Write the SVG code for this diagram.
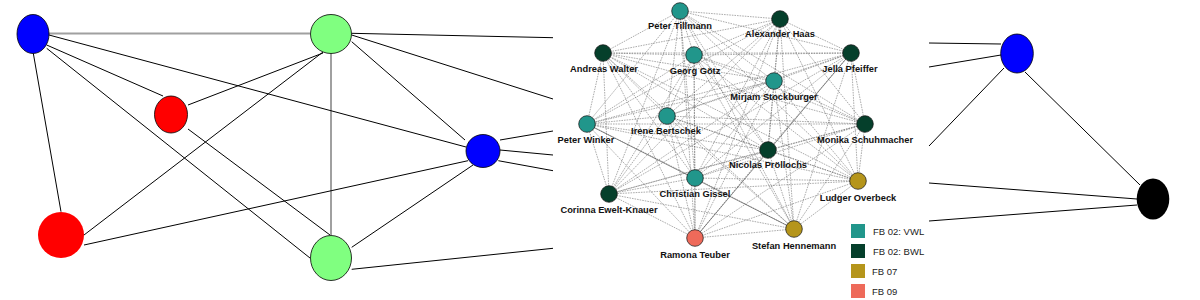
<svg xmlns="http://www.w3.org/2000/svg" width="1200" height="300" viewBox="0 0 1200 300">
<style>
.e{stroke:#000;stroke-width:1;fill:none}
.g{stroke:#a0a0a0;stroke-width:2;fill:none}
.d{stroke:#666;stroke-width:0.55;stroke-dasharray:1.6 1}
.s{stroke:#444;stroke-width:0.6}
.nd{stroke:#111;stroke-width:0.7}
.vwl{fill:#21968b}.bwl{fill:#053f2b}.f07{fill:#b5951b}.f09{fill:#ee6a5a}
.lb{font-family:"Liberation Sans",Arial,sans-serif;font-weight:bold;font-size:9.3px;fill:#111;text-anchor:middle}
.lg{font-family:"Liberation Sans",Arial,sans-serif;font-size:9.5px;fill:#222}
.o{stroke:#000;stroke-width:0.8}
</style>
<rect width="1200" height="300" fill="#fff"/>
<g id="connectors">
<line class="g" x1="49" y1="33.5" x2="310" y2="33.5"/>
<line class="g" x1="331" y1="53.5" x2="331" y2="235"/>
<line class="e" x1="49" y1="35" x2="466" y2="147"/>
<line class="e" x1="46.7" y1="45" x2="163" y2="96"/>
<line class="e" x1="46.7" y1="48.3" x2="310" y2="258"/>
<line class="e" x1="33.3" y1="53.3" x2="61" y2="211.7"/>
<line class="e" x1="188" y1="105" x2="323" y2="53"/>
<line class="e" x1="84" y1="235" x2="323" y2="52"/>
<line class="e" x1="188" y1="129" x2="330" y2="235"/>
<line class="e" x1="84" y1="245" x2="468" y2="160.7"/>
<line class="e" x1="351.7" y1="41.7" x2="465" y2="140"/>
<line class="e" x1="351.7" y1="33.3" x2="553" y2="37.7"/>
<line class="e" x1="351.7" y1="35" x2="553" y2="99"/>
<line class="e" x1="500" y1="140" x2="553" y2="131"/>
<line class="e" x1="500" y1="150" x2="553" y2="155"/>
<line class="e" x1="498.3" y1="160.7" x2="553" y2="170.7"/>
<line class="e" x1="473" y1="165" x2="351.7" y2="247.3"/>
<line class="e" x1="351.7" y1="269.3" x2="553" y2="248.3"/>
<line class="e" x1="929" y1="43" x2="1001" y2="44"/>
<line class="e" x1="929" y1="67" x2="1001" y2="55"/>
<line class="e" x1="929" y1="146" x2="1004" y2="68"/>
<line class="e" x1="929" y1="183" x2="1137" y2="199"/>
<line class="e" x1="929" y1="221" x2="1137" y2="205"/>
<line class="e" x1="1025" y1="72" x2="1140" y2="185"/>
<g class="d">
<line x1="680" y1="11" x2="780" y2="19"/><line x1="680" y1="11" x2="603" y2="53"/><line x1="680" y1="11" x2="694" y2="55"/><line x1="680" y1="11" x2="851" y2="53"/><line x1="680" y1="11" x2="774" y2="81"/><line x1="680" y1="11" x2="667" y2="116"/><line x1="680" y1="11" x2="587" y2="124"/><line x1="680" y1="11" x2="865" y2="124"/><line x1="680" y1="11" x2="768" y2="150"/><line x1="680" y1="11" x2="695" y2="178"/><line x1="680" y1="11" x2="858" y2="181"/><line x1="680" y1="11" x2="609" y2="194"/><line x1="680" y1="11" x2="794" y2="229"/><line x1="680" y1="11" x2="695" y2="238"/>
<line x1="780" y1="19" x2="603" y2="53"/><line x1="780" y1="19" x2="694" y2="55"/><line x1="780" y1="19" x2="851" y2="53"/><line x1="780" y1="19" x2="774" y2="81"/><line x1="780" y1="19" x2="667" y2="116"/><line x1="780" y1="19" x2="587" y2="124"/><line x1="780" y1="19" x2="865" y2="124"/><line x1="780" y1="19" x2="768" y2="150"/><line x1="780" y1="19" x2="695" y2="178"/><line x1="780" y1="19" x2="858" y2="181"/><line x1="780" y1="19" x2="609" y2="194"/><line x1="780" y1="19" x2="794" y2="229"/><line x1="780" y1="19" x2="695" y2="238"/>
<line x1="603" y1="53" x2="694" y2="55"/><line x1="603" y1="53" x2="851" y2="53"/><line x1="603" y1="53" x2="774" y2="81"/><line x1="603" y1="53" x2="667" y2="116"/><line x1="603" y1="53" x2="587" y2="124"/><line x1="603" y1="53" x2="865" y2="124"/><line x1="603" y1="53" x2="768" y2="150"/><line x1="603" y1="53" x2="695" y2="178"/><line x1="603" y1="53" x2="858" y2="181"/><line x1="603" y1="53" x2="609" y2="194"/><line x1="603" y1="53" x2="794" y2="229"/><line x1="603" y1="53" x2="695" y2="238"/>
<line x1="694" y1="55" x2="851" y2="53"/><line x1="694" y1="55" x2="774" y2="81"/><line x1="694" y1="55" x2="667" y2="116"/><line x1="694" y1="55" x2="587" y2="124"/><line x1="694" y1="55" x2="865" y2="124"/><line x1="694" y1="55" x2="768" y2="150"/><line x1="694" y1="55" x2="695" y2="178"/><line x1="694" y1="55" x2="858" y2="181"/><line x1="694" y1="55" x2="609" y2="194"/><line x1="694" y1="55" x2="794" y2="229"/><line x1="694" y1="55" x2="695" y2="238"/>
<line x1="851" y1="53" x2="774" y2="81"/><line x1="851" y1="53" x2="667" y2="116"/><line x1="851" y1="53" x2="587" y2="124"/><line x1="851" y1="53" x2="865" y2="124"/><line x1="851" y1="53" x2="768" y2="150"/><line x1="851" y1="53" x2="695" y2="178"/><line x1="851" y1="53" x2="858" y2="181"/><line x1="851" y1="53" x2="609" y2="194"/><line x1="851" y1="53" x2="794" y2="229"/>
<line x1="774" y1="81" x2="667" y2="116"/><line x1="774" y1="81" x2="587" y2="124"/><line x1="774" y1="81" x2="865" y2="124"/><line x1="774" y1="81" x2="768" y2="150"/><line x1="774" y1="81" x2="695" y2="178"/><line x1="774" y1="81" x2="858" y2="181"/><line x1="774" y1="81" x2="609" y2="194"/><line x1="774" y1="81" x2="794" y2="229"/><line x1="774" y1="81" x2="695" y2="238"/>
<line x1="667" y1="116" x2="587" y2="124"/><line x1="667" y1="116" x2="865" y2="124"/><line x1="667" y1="116" x2="768" y2="150"/><line x1="667" y1="116" x2="695" y2="178"/><line x1="667" y1="116" x2="858" y2="181"/><line x1="667" y1="116" x2="609" y2="194"/><line x1="667" y1="116" x2="794" y2="229"/><line x1="667" y1="116" x2="695" y2="238"/>
<line x1="587" y1="124" x2="865" y2="124"/><line x1="587" y1="124" x2="768" y2="150"/><line x1="587" y1="124" x2="695" y2="178"/><line x1="587" y1="124" x2="858" y2="181"/><line x1="587" y1="124" x2="609" y2="194"/><line x1="587" y1="124" x2="695" y2="238"/>
<line x1="865" y1="124" x2="768" y2="150"/><line x1="865" y1="124" x2="695" y2="178"/><line x1="865" y1="124" x2="858" y2="181"/><line x1="865" y1="124" x2="609" y2="194"/><line x1="865" y1="124" x2="794" y2="229"/><line x1="865" y1="124" x2="695" y2="238"/>
<line x1="768" y1="150" x2="695" y2="178"/><line x1="768" y1="150" x2="858" y2="181"/><line x1="768" y1="150" x2="609" y2="194"/><line x1="768" y1="150" x2="794" y2="229"/><line x1="768" y1="150" x2="695" y2="238"/>
<line x1="695" y1="178" x2="858" y2="181"/><line x1="695" y1="178" x2="609" y2="194"/><line x1="695" y1="178" x2="794" y2="229"/><line x1="695" y1="178" x2="695" y2="238"/>
<line x1="858" y1="181" x2="609" y2="194"/><line x1="858" y1="181" x2="794" y2="229"/><line x1="858" y1="181" x2="695" y2="238"/>
<line x1="609" y1="194" x2="794" y2="229"/><line x1="609" y1="194" x2="695" y2="238"/>
<line x1="794" y1="229" x2="695" y2="238"/>
</g>
<g class="s">
<line x1="587" y1="124" x2="794" y2="229"/>
<line x1="851" y1="53" x2="695" y2="238"/>
</g>
</g>
<g id="blue-top-left"><ellipse class="o" cx="33" cy="34" rx="16" ry="19.5" fill="#0000ff"/></g>
<g id="red-middle"><ellipse class="o" cx="171" cy="114.5" rx="16.5" ry="18.5" fill="#ff0000"/></g>
<g id="red-bottom"><circle cx="61" cy="235" r="23" fill="#ff0000"/></g>
<g id="green-top"><ellipse class="o" cx="331" cy="34" rx="20.5" ry="19.5" fill="#80ff80"/></g>
<g id="green-bottom"><ellipse class="o" cx="331" cy="258" rx="20.5" ry="22.5" fill="#80ff80"/></g>
<g id="blue-right"><ellipse class="o" cx="483" cy="151" rx="17" ry="16.5" fill="#0000ff"/></g>
<g id="blue-far-right"><ellipse class="o" cx="1017" cy="53.5" rx="16.3" ry="19.5" fill="#0000ff"/></g>
<g id="black-far-right"><ellipse cx="1153" cy="199" rx="16.3" ry="20.5" fill="#000"/></g>
<g id="peter-tillmann"><circle class="nd vwl" cx="680" cy="11" r="8.3"/><text class="lb" x="680" y="29">Peter Tillmann</text></g>
<g id="alexander-haas"><circle class="nd bwl" cx="780" cy="19" r="8.3"/><text class="lb" x="780" y="37">Alexander Haas</text></g>
<g id="andreas-walter"><circle class="nd bwl" cx="603" cy="53" r="8.3"/><text class="lb" x="604" y="72">Andreas Walter</text></g>
<g id="georg-goetz"><circle class="nd vwl" cx="694" cy="55" r="8.3"/><text class="lb" x="695" y="74">Georg Götz</text></g>
<g id="jella-pfeiffer"><circle class="nd bwl" cx="851" cy="53" r="8.3"/><text class="lb" x="850" y="72">Jella Pfeiffer</text></g>
<g id="mirjam-stockburger"><circle class="nd vwl" cx="774" cy="81" r="8.3"/><text class="lb" x="774" y="100">Mirjam Stockburger</text></g>
<g id="irene-bertschek"><circle class="nd vwl" cx="667" cy="116" r="8.3"/><text class="lb" x="666" y="134">Irene Bertschek</text></g>
<g id="peter-winker"><circle class="nd vwl" cx="587" cy="124" r="8.3"/><text class="lb" x="586" y="143">Peter Winker</text></g>
<g id="monika-schuhmacher"><circle class="nd bwl" cx="865" cy="124" r="8.3"/><text class="lb" x="865" y="143">Monika Schuhmacher</text></g>
<g id="nicolas-proellochs"><circle class="nd bwl" cx="768" cy="150" r="8.3"/><text class="lb" x="768" y="168">Nicolas Pröllochs</text></g>
<g id="christian-gissel"><circle class="nd vwl" cx="695" cy="178" r="8.3"/><text class="lb" x="695" y="197">Christian Gissel</text></g>
<g id="ludger-overbeck"><circle class="nd f07" cx="858" cy="181" r="8.3"/><text class="lb" x="858" y="201">Ludger Overbeck</text></g>
<g id="corinna-ewelt-knauer"><circle class="nd bwl" cx="609" cy="194" r="8.3"/><text class="lb" x="609" y="213">Corinna Ewelt-Knauer</text></g>
<g id="stefan-hennemann"><circle class="nd f07" cx="794" cy="229" r="8.3"/><text class="lb" x="794" y="249">Stefan Hennemann</text></g>
<g id="ramona-teuber"><circle class="nd f09" cx="695" cy="238" r="8.3"/><text class="lb" x="695" y="258">Ramona Teuber</text></g>
<g id="legend">
<rect class="vwl" x="851" y="224" width="14" height="14"/><text class="lg" x="873" y="235">FB 02: VWL</text>
<rect class="bwl" x="851" y="244" width="14" height="14"/><text class="lg" x="873" y="255">FB 02: BWL</text>
<rect class="f07" x="851" y="264" width="14" height="14"/><text class="lg" x="872" y="275">FB 07</text>
<rect class="f09" x="851" y="284" width="14" height="14"/><text class="lg" x="872" y="295">FB 09</text>
</g>
</svg>
